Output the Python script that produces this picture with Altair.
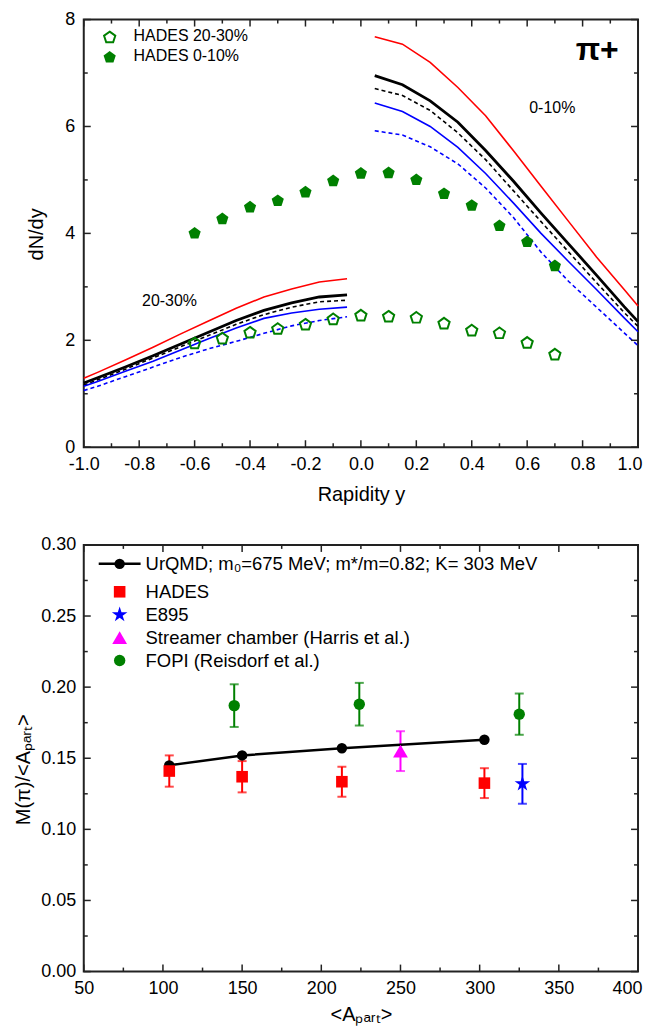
import altair as alt
import pandas as pd

FONT = "Liberation Sans"
GREEN = "#008000"

# ---------------- top panel data (dN/dy vs rapidity) ----------------
rap_left = [-1.0, -0.95, -0.85, -0.75, -0.65, -0.55, -0.45, -0.35, -0.25, -0.15, -0.05]
rap_right = [0.05, 0.15, 0.25, 0.35, 0.45, 0.55, 0.65, 0.75, 0.85, 0.95, 1.0]

red_left = [1.29, 1.40, 1.63, 1.87, 2.12, 2.36, 2.60, 2.81, 2.96, 3.09, 3.15]
black_left = [1.20, 1.30, 1.50, 1.71, 1.93, 2.15, 2.37, 2.56, 2.70, 2.81, 2.85]
blackdash_left = [1.16, 1.26, 1.46, 1.67, 1.88, 2.09, 2.30, 2.48, 2.62, 2.72, 2.75]
blue_left = [1.14, 1.23, 1.42, 1.61, 1.82, 2.03, 2.23, 2.41, 2.51, 2.58, 2.62]
bluedash_left = [1.06, 1.14, 1.32, 1.50, 1.68, 1.84, 1.98, 2.13, 2.27, 2.37, 2.44]

red_right = [7.68, 7.54, 7.20, 6.73, 6.20, 5.55, 4.88, 4.22, 3.56, 2.95, 2.64]
black_right = [6.95, 6.78, 6.48, 6.08, 5.55, 4.98, 4.38, 3.80, 3.22, 2.63, 2.35]
blackdash_right = [6.71, 6.58, 6.30, 5.88, 5.38, 4.80, 4.22, 3.65, 3.08, 2.52, 2.26]
blue_right = [6.44, 6.28, 6.00, 5.61, 5.12, 4.57, 4.00, 3.47, 2.95, 2.42, 2.16]
bluedash_right = [5.92, 5.84, 5.62, 5.30, 4.85, 4.30, 3.65, 3.10, 2.62, 2.14, 1.90]

hades_rap = [-0.6, -0.5, -0.4, -0.3, -0.2, -0.1, 0.0, 0.1, 0.2, 0.3, 0.4, 0.5, 0.6, 0.7]
hades_0_10 = [4.00, 4.27, 4.49, 4.61, 4.77, 4.98, 5.12, 5.13, 5.00, 4.74, 4.52, 4.14, 3.84, 3.39]
hades_20_30 = [1.94, 2.03, 2.14, 2.21, 2.29, 2.39, 2.46, 2.44, 2.42, 2.31, 2.18, 2.13, 1.95, 1.73]

top_x_labels = [-1.0, -0.8, -0.6, -0.4, -0.2, 0.0, 0.2, 0.4, 0.6, 0.8, 1.0]
top_x_minor = [-0.9, -0.7, -0.5, -0.3, -0.1, 0.1, 0.3, 0.5, 0.7, 0.9]
top_y_labels = [0, 2, 4, 6, 8]
top_y_minor = [1, 3, 5, 7]

# ---------------- bottom panel data (M(pi)/<Apart>) ----------------
urqmd_a = [104, 150, 213, 303]
urqmd_m = [0.145, 0.152, 0.157, 0.163]
hades_a = [104, 150, 213, 303]
hades_m = [0.141, 0.137, 0.1335, 0.1325]
hades_err = [0.011, 0.011, 0.0105, 0.0105]
e895_a = [327]
e895_m = [0.132]
e895_err = [0.014]
streamer_a = [250]
streamer_m = [0.155]
streamer_err = [0.014]
fopi_a = [145, 224, 325]
fopi_m = [0.187, 0.188, 0.181]
fopi_err = [0.015, 0.015, 0.0145]

bot_x_labels = [50, 100, 150, 200, 250, 300, 350, 400]
bot_x_minor = [75, 125, 175, 225, 275, 325, 375]
bot_y_labels = [0.0, 0.05, 0.10, 0.15, 0.20, 0.25, 0.30]
bot_y_minor = [0.025, 0.075, 0.125, 0.175, 0.225, 0.275]

legend_top = ["HADES 20-30%", "HADES 0-10%"]
legend_bottom = ["UrQMD; m\u2080=675 MeV; m*/m=0.82; K= 303 MeV", "HADES", "E895",
                 "Streamer chamber (Harris et al.)", "FOPI (Reisdorf et al.)"]

PENTAGON = "M0,-1L0.951,-0.309L0.588,0.809L-0.588,0.809L-0.951,-0.309Z"
STAR = ("M0,-1L0.2245,-0.309L0.951,-0.309L0.363,0.118L0.588,0.809L0,0.382"
        "L-0.588,0.809L-0.363,0.118L-0.951,-0.309L-0.2245,-0.309Z")

W, H1, H2 = 556, 429, 428


def frame_ticks(xmaj, xmin, ymaj, ymin, xscale, yscale, W, H):
    layers = []
    for vals, ln in ((xmaj, 7), (xmin, 4)):
        d = pd.DataFrame({"v": vals})
        layers.append(alt.Chart(d).mark_rule(color="#222", strokeWidth=1.5).encode(
            x=alt.X("v:Q", scale=xscale), y=alt.value(H), y2=alt.value(H - ln)))
        layers.append(alt.Chart(d).mark_rule(color="#222", strokeWidth=1.5).encode(
            x=alt.X("v:Q", scale=xscale), y=alt.value(0), y2=alt.value(ln)))
    for vals, ln in ((ymaj, 7), (ymin, 4)):
        d = pd.DataFrame({"v": vals})
        layers.append(alt.Chart(d).mark_rule(color="#222", strokeWidth=1.5).encode(
            y=alt.Y("v:Q", scale=yscale), x=alt.value(0), x2=alt.value(ln)))
        layers.append(alt.Chart(d).mark_rule(color="#222", strokeWidth=1.5).encode(
            y=alt.Y("v:Q", scale=yscale), x=alt.value(W), x2=alt.value(W - ln)))
    return layers


def text_at(s, x, y, size=16, align="left", weight="normal"):
    return alt.Chart(pd.DataFrame({"t": [s]})).mark_text(
        font=FONT, fontSize=size, align=align, baseline="middle", color="black",
        fontWeight=weight).encode(x=alt.value(x), y=alt.value(y), text="t:N")


def last_right(limit):
    return dict(
        labelAlign={"condition": {"test": f"datum.value >= {limit}", "value": "right"},
                    "value": "center"},
        labelOffset={"condition": {"test": f"datum.value >= {limit}", "value": 4},
                     "value": 0},
    )


# ---------------- top panel ----------------
xs_top = alt.Scale(domain=[-1, 1], nice=False, zero=False)
ys_top = alt.Scale(domain=[0, 8], nice=False)

X_top = alt.X("rap:Q", scale=xs_top, axis=alt.Axis(
    title="Rapidity y", values=top_x_labels, labelFlush=False,
    labelExpr="(datum.value < 0 ? '-' : '') + format(abs(datum.value), '.1f')",
    labelPadding=8, titleY=53, titleBaseline="alphabetic", **last_right(0.99)))
Y_top = alt.Y("dndy:Q", scale=ys_top, axis=alt.Axis(
    title="dN/dy", values=top_y_labels, format="d", labelPadding=9,
    titleX=-47, titleY=215, titleBaseline="middle", titleAngle=270))

curves = [
    ("red", red_left, red_right, "#ff0000", 1.6, [1, 0]),
    ("black", black_left, black_right, "#000000", 2.8, [1, 0]),
    ("blackdash", blackdash_left, blackdash_right, "#000000", 1.6, [4, 3]),
    ("blue", blue_left, blue_right, "#0000ff", 1.6, [1, 0]),
    ("bluedash", bluedash_left, bluedash_right, "#0000ff", 1.6, [4, 3]),
]
top_layers = []
for name, left, right, col, sw, dash in curves:
    d = pd.DataFrame({
        "rap": rap_left + rap_right,
        "dndy": left + right,
        "seg": ["L"] * len(rap_left) + ["R"] * len(rap_right),
    })
    mk = dict(color=col, strokeWidth=sw)
    if dash != [1, 0]:
        mk["strokeDash"] = dash
    top_layers.append(alt.Chart(d).mark_line(**mk).encode(x=X_top, y=Y_top, detail="seg:N"))

d_h1 = pd.DataFrame({"rap": hades_rap, "dndy": hades_0_10})
d_h2 = pd.DataFrame({"rap": hades_rap, "dndy": hades_20_30})
top_layers.append(alt.Chart(d_h1).mark_point(shape=PENTAGON, filled=True, size=165,
                                             color=GREEN, opacity=1).encode(x=X_top, y=Y_top))
top_layers.append(alt.Chart(d_h2).mark_point(shape=PENTAGON, filled=False, size=140,
                                             color=GREEN, strokeWidth=2, opacity=1).encode(x=X_top, y=Y_top))

# legend (top)
top_layers.append(alt.Chart(pd.DataFrame({"a": [0]})).mark_point(
    shape=PENTAGON, filled=False, size=140, color=GREEN, strokeWidth=2, opacity=1).encode(
    x=alt.value(26), y=alt.value(18)))
top_layers.append(alt.Chart(pd.DataFrame({"a": [0]})).mark_point(
    shape=PENTAGON, filled=True, size=165, color=GREEN, opacity=1).encode(
    x=alt.value(26), y=alt.value(38)))
top_layers.append(text_at(legend_top[0], 50, 17, 16))
top_layers.append(text_at(legend_top[1], 50, 37, 16))
top_layers.append(text_at("\u03c0+", 515, 31, 32, "center", "bold"))
top_layers.append(text_at("0-10%", 470, 89, 16, "center"))
top_layers.append(text_at("20-30%", 86, 282, 16, "center"))

top_layers += frame_ticks(top_x_labels, top_x_minor, top_y_labels, top_y_minor,
                          xs_top, ys_top, W, H1)
top = alt.layer(*top_layers).properties(width=W, height=H1)

# ---------------- bottom panel ----------------
xs_b = alt.Scale(domain=[50, 400], nice=False, zero=False)
ys_b = alt.Scale(domain=[0, 0.30], nice=False)
X_b = alt.X("a:Q", scale=xs_b, axis=alt.Axis(
    title="<A\u209a\u2090\u1d63\u209c>", values=bot_x_labels, format="d", labelFlush=False,
    labelPadding=8, titleY=49, titleBaseline="alphabetic", **last_right(399)))
Y_b = alt.Y("m:Q", scale=ys_b, axis=alt.Axis(
    title="M(\u03c0)/<A\u209a\u2090\u1d63\u209c>", values=bot_y_labels, format=".2f",
    labelPadding=8, titleX=-60, titleY=225, titleBaseline="middle", titleAngle=270))


def err_layers(a, m, e, color):
    d = pd.DataFrame({"a": a, "m": m, "e": e})
    base = alt.Chart(d).transform_calculate(lo="datum.m - datum.e", hi="datum.m + datum.e")
    return [
        base.mark_rule(color=color, strokeWidth=2).encode(
            x=X_b, y=alt.Y("lo:Q", scale=ys_b), y2="hi:Q"),
        base.mark_tick(color=color, orient="horizontal", size=9, thickness=2).encode(
            x=X_b, y=alt.Y("lo:Q", scale=ys_b)),
        base.mark_tick(color=color, orient="horizontal", size=9, thickness=2).encode(
            x=X_b, y=alt.Y("hi:Q", scale=ys_b)),
    ]


bl = []
bl += err_layers(hades_a, hades_m, hades_err, "#ff0000")
bl += err_layers(fopi_a, fopi_m, fopi_err, GREEN)
bl += err_layers(streamer_a, streamer_m, streamer_err, "#ff00ff")
bl += err_layers(e895_a, e895_m, e895_err, "#0000ff")

d_u = pd.DataFrame({"a": urqmd_a, "m": urqmd_m})
bl.append(alt.Chart(d_u).mark_line(color="black", strokeWidth=2.5).encode(x=X_b, y=Y_b))
bl.append(alt.Chart(d_u).mark_point(shape="circle", filled=True, size=110, color="black",
                                    opacity=1).encode(x=X_b, y=Y_b))
bl.append(alt.Chart(pd.DataFrame({"a": hades_a, "m": hades_m})).mark_point(
    shape="square", filled=True, size=135, color="#ff0000", opacity=1).encode(x=X_b, y=Y_b))
bl.append(alt.Chart(pd.DataFrame({"a": fopi_a, "m": fopi_m})).mark_point(
    shape="circle", filled=True, size=130, color=GREEN, opacity=1).encode(x=X_b, y=Y_b))
bl.append(alt.Chart(pd.DataFrame({"a": streamer_a, "m": streamer_m})).mark_point(
    shape="triangle-up", filled=True, size=220, color="#ff00ff", opacity=1).encode(x=X_b, y=Y_b))
bl.append(alt.Chart(pd.DataFrame({"a": e895_a, "m": e895_m})).mark_point(
    shape=STAR, filled=True, size=270, color="#0000ff", opacity=1).encode(x=X_b, y=Y_b))

# legend (bottom)
one = pd.DataFrame({"a": [0]})
bl.append(alt.Chart(one).mark_rule(color="black", strokeWidth=2.5).encode(
    x=alt.value(15), x2=alt.value(57), y=alt.value(19)))
leg_rows = [19, 47, 70, 93, 116]
leg_marks = [("circle", "black", 110), ("square", "#ff0000", 135), (STAR, "#0000ff", 270),
             ("triangle-up", "#ff00ff", 220), ("circle", GREEN, 130)]
for (shp, col, sz), yy in zip(leg_marks, leg_rows):
    bl.append(alt.Chart(one).mark_point(shape=shp, filled=True, size=sz, color=col,
                                        opacity=1).encode(x=alt.value(36), y=alt.value(yy)))
for lab, yy in zip(legend_bottom, leg_rows):
    bl.append(text_at(lab, 62, yy, 18.5))

bl += frame_ticks(bot_x_labels, bot_x_minor, bot_y_labels, bot_y_minor, xs_b, ys_b, W, H2)
bottom = alt.layer(*bl).properties(width=W, height=H2)

chart = alt.vconcat(top, bottom, spacing=30).configure_view(
    stroke="#222", strokeWidth=2
).configure_axis(
    labelFont=FONT, labelFontSize=18, labelColor="black",
    titleFont=FONT, titleFontSize=20, titleColor="black", titleFontWeight="normal",
    grid=False, ticks=False, domain=False
).properties(padding={"left": 5, "top": 0, "right": 0, "bottom": 0})

chart.save("out.html", embed_options={"renderer": "svg", "actions": False})
